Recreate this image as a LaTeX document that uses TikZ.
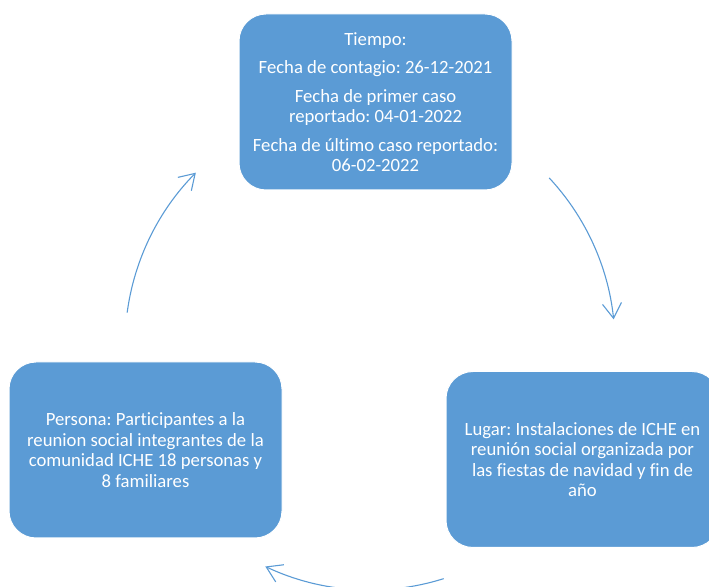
\documentclass[tikz,border=0pt]{standalone}
\usepackage{fontspec}
\setmainfont[Ligatures=NoCommon]{Carlito}
\frenchspacing
\usetikzlibrary{arrows.meta,calc}
\definecolor{accent}{HTML}{5B9BD5}
\begin{document}
\begin{tikzpicture}[x=1pt,y=1pt,
  box/.style={rounded corners=27pt, fill=accent, draw=white, line width=1pt,
    minimum width=273pt, minimum height=176pt, text=white, align=center,
    font=\fontsize{18.7}{20.5}\selectfont, inner sep=0pt},
  cyc/.style={draw=accent, line width=1.1pt, -{Straight Barb[length=15pt,width=19pt,line width=1.1pt]}}]
\useasboundingbox (0,0) rectangle (709,586);
\clip (0,0) rectangle (709,586);
\node[box] (tiempo) at (375.5,484) {Tiempo:\\[8pt]
  Fecha de contagio: 26-12-2021\\[8pt]
  Fecha de primer caso\\ reportado: 04-01-2022\\[8pt]
  Fecha de último caso reportado:\\ 06-02-2022};
\node[box] (lugar) at (582.5,126.5) {Lugar: Instalaciones de ICHE en\\
  reunión social organizada por\\ las fiestas de navidad y fin de\\ año};
\node[box] (persona) at (145.5,136) {Persona: Participantes a la\\
  reunion social integrantes de la\\ comunidad ICHE 18 personas y\\ 8 familiares};
\coordinate (C) at (370,241);
\coordinate (a1) at ($(C)+(43:245)$);
\coordinate (a2) at ($(C)+(-72.5:245)$);
\coordinate (a3) at ($(C)+(172.4:245)$);
\draw[cyc] (a1) arc[start angle=43, end angle=6, radius=245pt];
\draw[cyc] (a2) arc[start angle=-72.5, end angle=-115.3, radius=245pt];
\draw[cyc] (a3) arc[start angle=172.4, end angle=135.3, radius=245pt];
\end{tikzpicture}
\end{document}
